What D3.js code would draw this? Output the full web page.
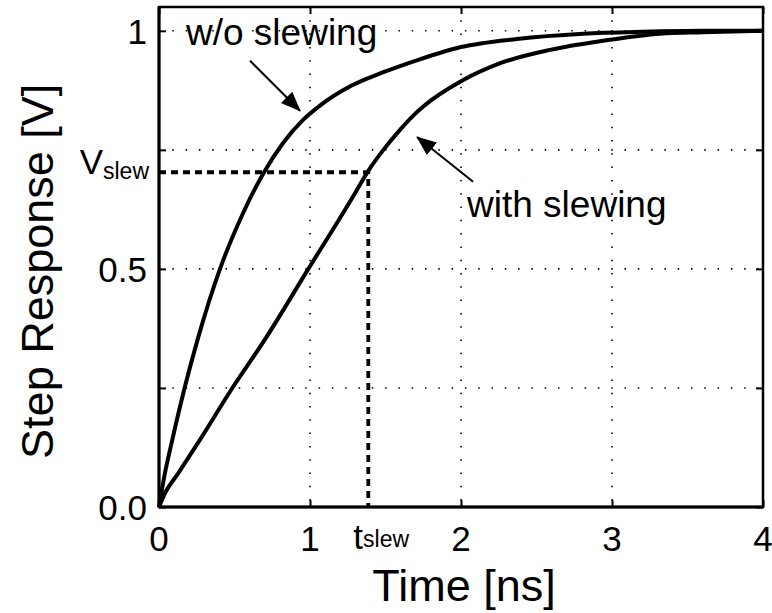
<!DOCTYPE html>
<html>
<head>
<meta charset="utf-8">
<script src="https://cdn.jsdelivr.net/npm/d3@7"></script>
<style>
  body { margin: 0; background: #fff; }
  svg { display: block; font-family: Arial, "Liberation Sans", sans-serif; }
</style>
</head>
<body>
<svg id="chart" width="772" height="613"></svg>
<script>
// step response without slewing (time in ns, volts)
const woTime = [0, 0.04, 0.088, 0.172, 0.256, 0.404, 0.558, 0.69, 0.823, 0.954, 1.066, 1.276, 1.486, 1.707, 2.0, 2.37, 2.81, 3.2, 3.6, 4.0];
const woVolt = [0, 0.072, 0.141, 0.253, 0.352, 0.5, 0.618, 0.7, 0.765, 0.813, 0.843, 0.885, 0.913, 0.938, 0.966, 0.983, 0.994, 0.998, 1.0, 1.0];

// step response with slewing
const wsTime = [0, 0.04, 0.128, 0.271, 0.492, 0.702, 0.989, 1.22, 1.30, 1.386, 1.486, 1.596, 1.684, 1.75, 2.0, 2.26, 2.59, 2.94, 3.32, 3.6, 4.0];
const wsVolt = [0, 0.029, 0.071, 0.141, 0.253, 0.352, 0.5, 0.618, 0.66, 0.706, 0.75, 0.792, 0.822, 0.841, 0.894, 0.932, 0.96, 0.979, 0.994, 0.997, 1.0];

const xTicks = [0, 1, 2, 3, 4];
const yTicks = [0, 0.25, 0.5, 0.75, 1];
const yTickLabels = { 0: '0.0', 0.5: '0.5', 1: '1' };
const tSlew = 1.386;
const vSlew = 0.703;

const margin = { top: 7, right: 9, bottom: 106, left: 159 };
const width = 772 - margin.left - margin.right;
const height = 613 - margin.top - margin.bottom;

const svg = d3.select('#chart');
const g = svg.append('g').attr('transform', `translate(${margin.left},${margin.top})`);

const x = d3.scaleLinear().domain([0, 4]).range([0, width]);
const y = d3.scaleLinear().domain([0, 1.05]).range([height, 0]);

// dotted grid
const dots = '1.5 11.8';
g.selectAll('.gx')
  .data(xTicks.filter((d) => d > 0 && d < 4))
  .enter()
  .append('line')
  .attr('x1', (d) => x(d)).attr('x2', (d) => x(d))
  .attr('y1', 0).attr('y2', height)
  .attr('stroke', '#000').attr('stroke-width', 1.6)
  .attr('stroke-dasharray', dots);
g.selectAll('.gy')
  .data(yTicks.filter((d) => d > 0))
  .enter()
  .append('line')
  .attr('x1', 0).attr('x2', width)
  .attr('y1', (d) => y(d)).attr('y2', (d) => y(d))
  .attr('stroke', '#000').attr('stroke-width', 1.6)
  .attr('stroke-dasharray', dots);

// slew markers
g.append('path')
  .attr('d', `M0,${y(vSlew)}H${x(tSlew)}V${height}`)
  .attr('fill', 'none').attr('stroke', '#000')
  .attr('stroke-width', 3.8).attr('stroke-dasharray', '7 5');

// axes with inner ticks
const tickLen = 7;
g.append('g').attr('transform', `translate(0,${height})`)
  .call(d3.axisBottom(x).tickValues(xTicks).tickSize(-tickLen).tickFormat(''));
g.append('g')
  .call(d3.axisTop(x).tickValues(xTicks).tickSize(-tickLen).tickFormat(''));
g.append('g')
  .call(d3.axisLeft(y).tickValues(yTicks).tickSize(-tickLen).tickFormat(''));
g.append('g').attr('transform', `translate(${width},0)`)
  .call(d3.axisRight(y).tickValues(yTicks).tickSize(-tickLen).tickFormat(''));
g.selectAll('.domain').remove();
g.selectAll('.tick line').attr('stroke', '#000').attr('stroke-width', 2);

g.append('rect')
  .attr('width', width).attr('height', height)
  .attr('fill', 'none').attr('stroke', '#000').attr('stroke-width', 2.5);
g.append('line')
  .attr('x1', 0).attr('x2', 0).attr('y1', 0).attr('y2', height)
  .attr('stroke', '#000').attr('stroke-width', 3);
g.append('line')
  .attr('x1', 0).attr('x2', width).attr('y1', height).attr('y2', height)
  .attr('stroke', '#000').attr('stroke-width', 3);

// curves
const line = d3.line().x((d) => x(d[0])).y((d) => y(d[1])).curve(d3.curveMonotoneX);
[[woTime, woVolt], [wsTime, wsVolt]].forEach(([t, v]) => {
  g.append('path')
    .datum(t.map((d, i) => [d, v[i]]))
    .attr('fill', 'none').attr('stroke', '#000')
    .attr('stroke-width', 4).attr('stroke-linejoin', 'round')
    .attr('d', line);
});

// tick labels
const tickFont = 35;
g.selectAll('.xl')
  .data(xTicks)
  .enter()
  .append('text')
  .attr('x', (d) => x(d)).attr('y', height + 44)
  .attr('text-anchor', 'middle').attr('font-size', tickFont)
  .text((d) => d);
g.selectAll('.yl')
  .data(yTicks.filter((d) => yTickLabels[d] !== undefined))
  .enter()
  .append('text')
  .attr('x', -12).attr('y', (d) => y(d) + 13)
  .attr('text-anchor', 'end').attr('font-size', tickFont)
  .text((d) => yTickLabels[d]);

const vLab = g.append('text')
  .attr('x', -10).attr('y', y(vSlew) + 2)
  .attr('text-anchor', 'end').attr('font-size', tickFont);
vLab.append('tspan').text('V');
vLab.append('tspan').attr('font-size', 23).attr('dy', 5).text('slew');

const tLab = g.append('text')
  .attr('x', x(tSlew) - 15).attr('y', height + 42)
  .attr('font-size', tickFont);
tLab.append('tspan').text('t');
tLab.append('tspan').attr('font-size', 23).attr('dy', -2).text('slew');

// axis titles
svg.append('text')
  .attr('x', margin.left + x(2.02)).attr('y', 601)
  .attr('text-anchor', 'middle').attr('font-size', 45)
  .text('Time [ns]');
svg.append('text')
  .attr('transform', `translate(53,${margin.top + y(0.495)}) rotate(-90)`)
  .attr('text-anchor', 'middle').attr('font-size', 45)
  .text('Step Response [V]');

// annotations
svg.append('defs').append('marker')
  .attr('id', 'head')
  .attr('markerUnits', 'userSpaceOnUse')
  .attr('viewBox', '0 0 20 16')
  .attr('markerWidth', 20).attr('markerHeight', 16)
  .attr('refX', 19).attr('refY', 8)
  .attr('orient', 'auto')
  .append('path').attr('d', 'M0,0L20,8L0,16Z').attr('fill', '#000');

const notes = [
  { label: 'w/o slewing', tx: 0.179, ty: 0.97, from: [0.603, 0.937], to: [0.934, 0.832] },
  { label: 'with slewing', tx: 2.04, ty: 0.609, from: [2.08, 0.683], to: [1.709, 0.777] }
];
notes.forEach((n) => {
  g.append('text')
    .attr('x', x(n.tx)).attr('y', y(n.ty))
    .attr('font-size', 37)
    .text(n.label);
  g.append('line')
    .attr('x1', x(n.from[0])).attr('y1', y(n.from[1]))
    .attr('x2', x(n.to[0])).attr('y2', y(n.to[1]))
    .attr('stroke', '#000').attr('stroke-width', 2)
    .attr('marker-end', 'url(#head)');
});
</script>
</body>
</html>
